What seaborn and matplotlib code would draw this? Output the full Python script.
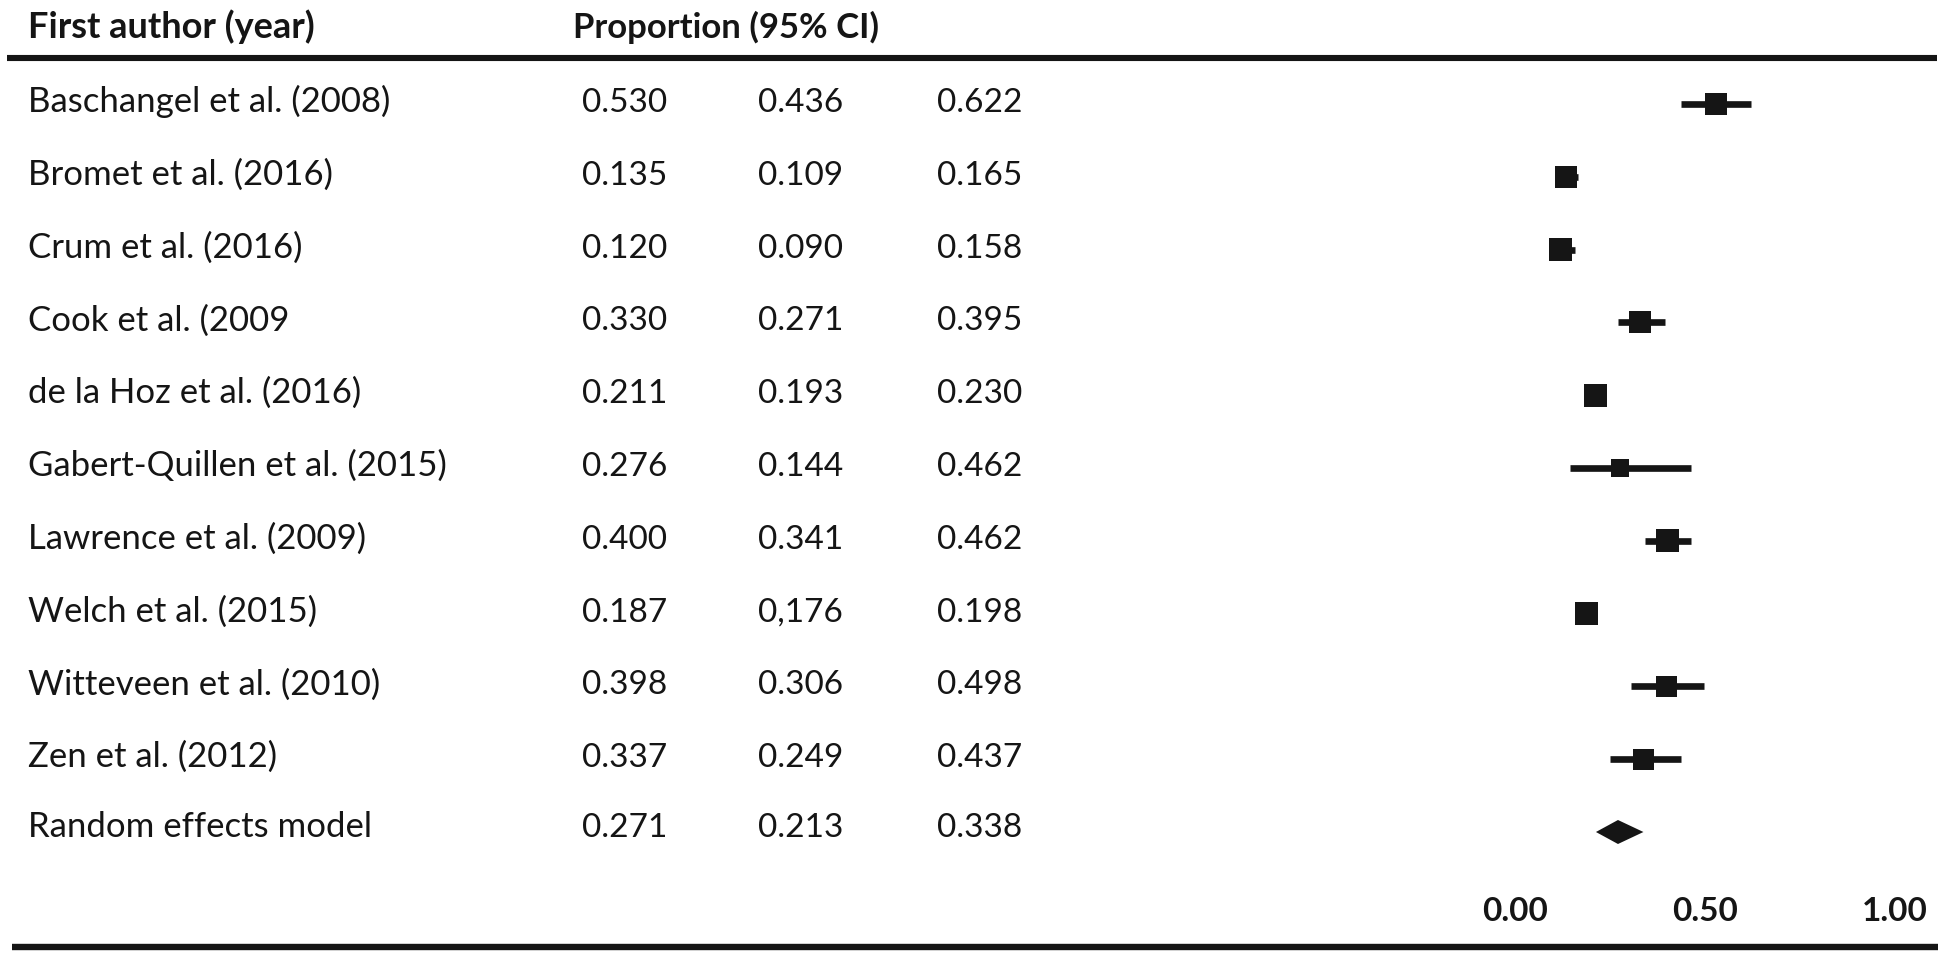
import numpy as np
import pandas as pd
import matplotlib
matplotlib.use('Agg')
import matplotlib.pyplot as plt
import seaborn as sns
from matplotlib.lines import Line2D
from matplotlib import transforms

# table values, as printed
authors = ['Baschangel et al. (2008)', 'Bromet et al. (2016)', 'Crum et al. (2016)',
           'Cook et al. (2009', 'de la Hoz et al. (2016)', 'Gabert-Quillen et al. (2015)',
           'Lawrence et al. (2009)', 'Welch et al. (2015)', 'Witteveen et al. (2010)',
           'Zen et al. (2012)']
prop_txt = ['0.530', '0.135', '0.120', '0.330', '0.211', '0.276', '0.400', '0.187', '0.398', '0.337']
low_txt = ['0.436', '0.109', '0.090', '0.271', '0.193', '0.144', '0.341', '0,176', '0.306', '0.249']
high_txt = ['0.622', '0.165', '0.158', '0.395', '0.230', '0.462', '0.462', '0.198', '0.498', '0.437']

pooled_label = 'Random effects model'
pooled_txt = ['0.271', '0.213', '0.338']

ticks = [0.0, 0.5, 1.0]
tick_labels = ['0.00', '0.50', '1.00']

def num(s):
    return float(s.replace(',', '.'))

df = pd.DataFrame({'author': authors,
                   'prop': [num(v) for v in prop_txt],
                   'low': [num(v) for v in low_txt],
                   'high': [num(v) for v in high_txt]})
df['row'] = np.arange(len(df))
pooled_row = len(df)

# box widths in pixels (study weights as drawn)
box_px = [22, 22, 23, 22, 23, 18, 23, 23, 21, 21]

sns.set_style('white')
plt.rcParams['font.family'] = ['Lato', 'DejaVu Sans']
FS_NAME = 25
FS_NUM = 24
FS_HEAD = 26
ink = '#151515'

W, H = 1950, 961
fig = plt.figure(figsize=(W / 100, H / 100), dpi=100)

# forest panel: 0 -> x=1515px, 1 -> x=1895px
ax_bottom = 893
ax = fig.add_axes([1515 / W, (H - ax_bottom) / H, 380 / W, ax_bottom / H])
row0, step = 104, 72.8
ax.set_ylim((ax_bottom - row0) / step, -row0 / step)
ax.set_xlim(0, 1)

ax.hlines(df['row'], df['low'], df['high'], color=ink, lw=4.8, zorder=2)
sizes = [(p * 0.72) ** 2 for p in box_px]
sns.scatterplot(data=df, x='prop', y='row', marker='s', s=sizes, color=ink,
                linewidth=0, ax=ax, zorder=3, legend=False)

p_est, p_lo, p_hi = [num(v) for v in pooled_txt]
h = 12 / step
ax.fill([p_lo, p_est, p_hi, p_est], [pooled_row, pooled_row - h, pooled_row, pooled_row + h],
        color=ink, lw=0, zorder=3)

for s in ax.spines.values():
    s.set_visible(False)
ax.set_yticks([])
ax.set_xticks(ticks)
ax.set_xticklabels(tick_labels, fontsize=FS_NUM, fontweight='bold', color=ink)
ax.tick_params(axis='x', length=0, pad=3)
ax.set_xlabel('')
ax.set_ylabel('')
ax.patch.set_alpha(0)

# text table
tr = transforms.blended_transform_factory(fig.transFigure, ax.transData)
col_x = [28 / W, 582 / W, 758 / W, 937 / W]
base = 8 / step
for i, r in df.iterrows():
    y = r['row'] + base
    ax.text(col_x[0], y, r['author'], transform=tr, fontsize=FS_NAME, color=ink, va='baseline', clip_on=False)
    for cx, t in zip(col_x[1:], [prop_txt[i], low_txt[i], high_txt[i]]):
        ax.text(cx, y, t, transform=tr, fontsize=FS_NUM, color=ink, va='baseline', clip_on=False)
y = pooled_row + base - 3 / step
ax.text(col_x[0], y, pooled_label, transform=tr, fontsize=FS_NAME, color=ink, va='baseline', clip_on=False)
for cx, t in zip(col_x[1:], pooled_txt):
    ax.text(cx, y, t, transform=tr, fontsize=FS_NUM, color=ink, va='baseline', clip_on=False)

head_y = (38 - row0) / step
ax.text(28 / W, head_y, 'First author (year)', transform=tr, fontsize=FS_HEAD, fontweight='bold',
        color=ink, va='baseline', clip_on=False)
ax.text(573 / W, head_y, 'Proportion (95% CI)', transform=tr, fontsize=FS_HEAD - 1, fontweight='bold',
        color=ink, va='baseline', clip_on=False)

# rules
fig.add_artist(Line2D([7 / W, 1937 / W], [1 - 58 / H, 1 - 58 / H], color=ink, lw=4.4,
                      solid_capstyle='butt'))
fig.add_artist(Line2D([12 / W, 1938 / W], [1 - 947 / H, 1 - 947 / H], color=ink, lw=4.6,
                      solid_capstyle='butt'))

fig.savefig('out.png', dpi=100)
